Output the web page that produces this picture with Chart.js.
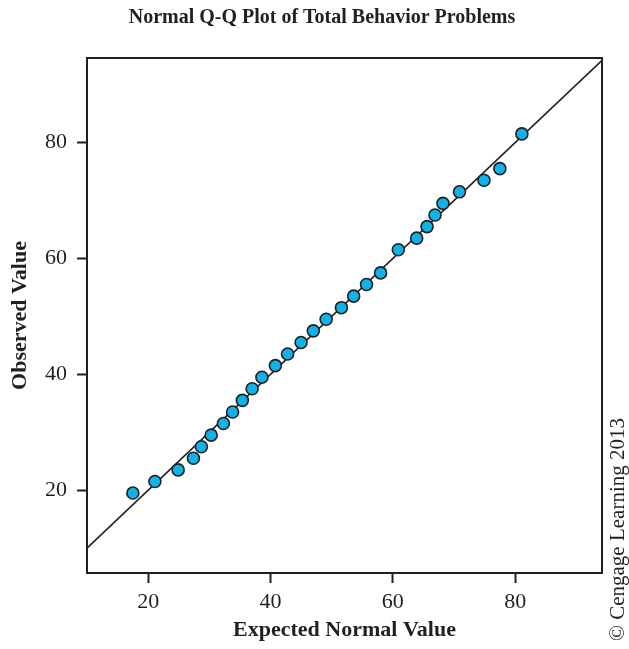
<!DOCTYPE html>
<html>
<head>
<meta charset="utf-8">
<script src="https://cdn.jsdelivr.net/npm/chart.js@4"></script>
<style>
  html, body { margin: 0; padding: 0; background: #fff; }
  #qq { display: block; }
</style>
</head>
<body>
<canvas id="qq" width="629" height="649"></canvas>
<script>
// ── data ─────────────────────────────────────────────────────────────────────

const expectedValues = [17.5, 21.1, 24.9, 27.4, 28.7, 30.3, 32.3, 33.8, 35.4, 37.0,
  38.6, 40.8, 42.8, 45.0, 47.0, 49.1, 51.6, 53.6, 55.7, 58.0,
  60.9, 63.9, 65.6, 66.9, 68.2, 70.9, 74.9, 77.5, 81.1];
const observedValues = [19.5, 21.5, 23.5, 25.5, 27.5, 29.5, 31.5, 33.5, 35.5, 37.5,
  39.5, 41.5, 43.5, 45.5, 47.5, 49.5, 51.5, 53.5, 55.5, 57.5,
  61.5, 63.5, 65.5, 67.5, 69.5, 71.5, 73.5, 75.5, 81.5];
const refLine = [5.7, 94.6]; // y = x
const tickValues = [20, 40, 60, 80];

const chartTitle = 'Normal Q-Q Plot of Total Behavior Problems';
const xTitle = 'Expected Normal Value';
const yTitle = 'Observed Value';
const credit = '\u00A9 Cengage Learning 2013';

// ── helpers ──────────────────────────────────────────────────────────────────

const INK = '#231f20';
const SERIF = '"Liberation Serif", "Times New Roman", serif';

const points = expectedValues.map((x, i) => ({ x, y: observedValues[i] }));
const linePts = refLine.map((v) => ({ x: v, y: v }));

const keepTicks = (scale) => {
  scale.ticks = tickValues.map((v) => ({ value: v }));
};

// frame + texts
const decor = {
  id: 'decor',
  afterDraw(chart) {
    const { ctx, chartArea: a } = chart;
    ctx.save();
    ctx.strokeStyle = INK;
    ctx.lineWidth = 2;
    ctx.strokeRect(a.left, a.top, a.right - a.left, a.bottom - a.top);

    ctx.fillStyle = INK;
    ctx.textAlign = 'center';
    ctx.textBaseline = 'middle';
    ctx.font = 'bold 20px ' + SERIF;
    ctx.fillText(chartTitle, 322, 18);

    ctx.font = 'bold 22px ' + SERIF;
    ctx.fillText(xTitle, (a.left + a.right) / 2, 630);

    ctx.translate(20, (a.top + a.bottom) / 2);
    ctx.rotate(-Math.PI / 2);
    ctx.fillText(yTitle, 0, 0);
    ctx.restore();

    ctx.save();
    ctx.fillStyle = INK;
    ctx.font = '21px ' + SERIF;
    ctx.textAlign = 'left';
    ctx.textBaseline = 'middle';
    ctx.translate(618, 641);
    ctx.rotate(-Math.PI / 2);
    ctx.fillText(credit, 0, 0);
    ctx.restore();
  },
};

// ── chart ────────────────────────────────────────────────────────────────────

new Chart(document.getElementById('qq'), {
  type: 'scatter',
  data: {
    datasets: [
      {
        type: 'line',
        data: linePts,
        borderColor: INK,
        borderWidth: 1.6,
        pointRadius: 0,
        fill: false,
        order: 2,
      },
      {
        data: points,
        backgroundColor: '#10b2e8',
        borderColor: INK,
        borderWidth: 1.6,
        pointRadius: 6,
        order: 1,
      },
    ],
  },
  options: {
    responsive: false,
    animation: false,
    layout: { padding: { left: 0, right: 27, top: 58, bottom: 0 } },
    plugins: { legend: { display: false }, tooltip: { enabled: false } },
    scales: {
      x: {
        type: 'linear',
        min: 10,
        max: 94.2,
        afterBuildTicks: keepTicks,
        afterFit: (s) => { s.height = 76; },
        border: { display: false },
        grid: { drawOnChartArea: false, tickLength: 10, tickColor: INK, tickWidth: 2 },
        ticks: { color: INK, padding: 6, font: { family: SERIF, size: 22 } },
      },
      y: {
        type: 'linear',
        min: 5.7,
        max: 94.6,
        afterBuildTicks: keepTicks,
        afterFit: (s) => { s.width = 87; },
        border: { display: false },
        grid: { drawOnChartArea: false, tickLength: 10, tickColor: INK, tickWidth: 2 },
        ticks: { color: INK, padding: 10, font: { family: SERIF, size: 22 } },
      },
    },
  },
  plugins: [decor],
});
</script>
</body>
</html>
